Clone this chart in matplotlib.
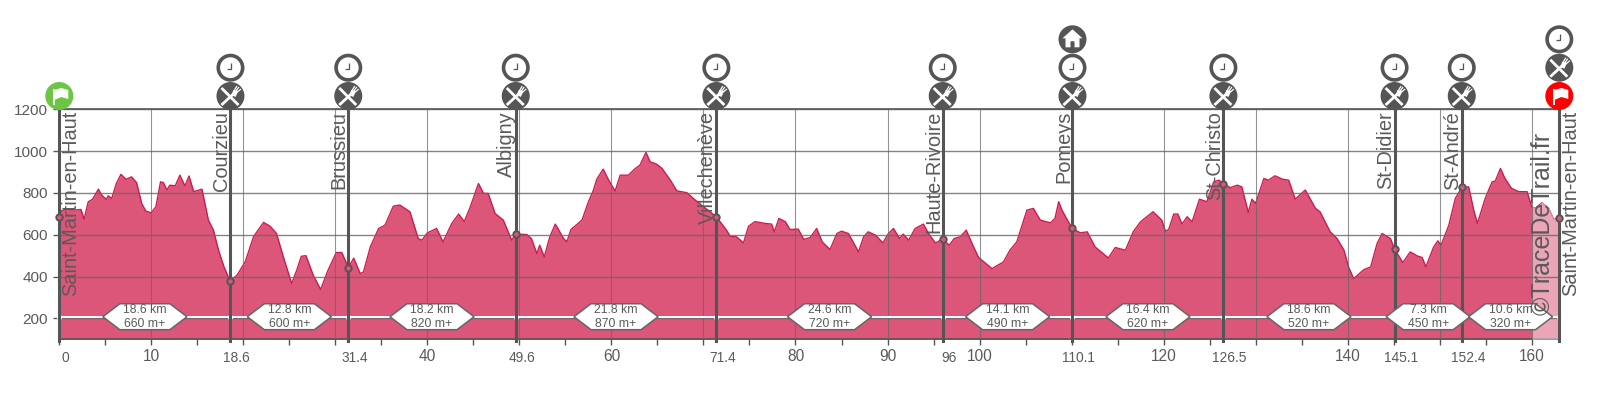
import matplotlib
matplotlib.use('Agg')
import matplotlib.pyplot as plt
from matplotlib.patches import Circle, Polygon

plt.rcParams['font.family'] = ['Liberation Sans', 'DejaVu Sans']

# Elevation profile
km = [0, .25, .8, 1.7, 2.35, 2.7, 3.15, 3.6, 4.25, 4.6, 5.1, 5.3, 5.7, 6.2, 6.7, 7.25, 7.85, 8.4, 8.95, 9.4,
      10, 10.5, 11, 11.3, 11.7, 12, 12.6, 13.1, 13.65, 14.1, 14.6, 15.5, 16.2, 16.75, 17.3, 17.9, 18.55, 19.3,
      20.2, 21.1, 21.6, 22.2, 22.9, 23.6, 24.35, 25.25, 25.8, 26.3, 26.8, 27.6, 28.4, 29.2, 30.1, 30.7, 31.4,
      32, 32.7, 33.05, 33.8, 34.7, 35.4, 36.3, 37, 38.1, 39, 39.4, 40, 41, 41.7, 42.65, 43.4, 44, 44.6, 45.55,
      46.1, 46.6, 47.35, 48.25, 49.15, 49.6, 50.8, 51.3, 51.9, 52.2, 52.7, 53.3, 53.9, 54.8, 55.15, 55.6, 56.8,
      57.5, 58.05, 58.4, 59.1, 59.7, 60.4, 60.95, 61.85, 62.6, 63.1, 63.75, 64.2, 64.9, 65.5, 66.4, 67.1, 68.2,
      69.1, 70, 71.4, 72.5, 72.9, 73.6, 74.35, 74.9, 75.6, 76.7, 77.4, 77.7, 78.2, 78.9, 79.4, 80.3, 80.9, 81.6,
      82.3, 82.9, 83.75, 84.5, 85, 85.75, 86.85, 87.4, 87.9, 88.7, 89.5, 90.1, 90.65, 91.3, 91.7, 92.3, 93, 93.9,
      94.45, 95.2, 96, 96.7, 97.25, 97.9, 98.55, 99.35, 99.9, 101.35, 102.6, 103.3, 104.05, 105.15, 105.85,
      106.6, 107.7, 108.2, 108.6, 108.95, 109.65, 110.1, 110.95, 111.7, 112.55, 114, 114.75, 115.85, 116.7,
      117.5, 118.85, 119.8, 120.2, 120.55, 121.1, 121.55, 122, 122.55, 123.1, 123.9, 124.7, 125.45, 126, 126.5,
      127.25, 128, 128.5, 129.2, 129.6, 130, 130.9, 131.4, 132.1, 132.9, 133.6, 134.3, 135.4, 136.5, 137, 138.1,
      138.85, 139.6, 140.1, 140.65, 141.75, 142.5, 143.2, 143.75, 144.65, 145.1, 146, 146.8, 147.55, 148.1,
      148.5, 149.35, 149.8, 150.15, 151, 151.7, 152.45, 153.15, 153.7, 154.1, 154.95, 155.7, 156.05, 156.6,
      157.1, 157.8, 158.6, 159.5, 160, 160.4, 161.1, 161.85, 162.4, 163]
elevation = [683, 715, 724, 718, 721, 675, 758, 769, 818, 790, 769, 786, 774, 845, 889, 865, 877, 849, 750, 713,
             705, 734, 853, 850, 814, 837, 834, 885, 834, 881, 806, 818, 670, 622, 526, 446, 379, 406,
             470, 590, 622, 659, 641, 606, 494, 366, 430, 497, 500, 406, 338, 430, 515, 515, 443,
             488, 414, 422, 542, 630, 646, 737, 742, 710, 582, 574, 609, 630, 566, 654, 699, 663, 726, 845,
             798, 798, 702, 670, 574, 603, 601, 582, 510, 550, 494, 590, 651, 582, 566, 625, 670,
             758, 814, 865, 914, 861, 809, 885, 885, 917, 933, 994, 949, 938, 917, 861, 810, 801,
             766, 734, 686, 622, 593, 590, 561, 641, 663, 654, 651, 614, 678, 662, 625, 627, 577, 587,
             630, 566, 529, 606, 617, 606, 518, 590, 614, 598, 561, 606, 630, 582, 603, 574, 630, 651,
             606, 561, 579, 550, 582, 590, 622, 542, 491, 438, 470, 526, 566, 718, 726,
             670, 657, 678, 758, 718, 662, 630, 609, 614, 542, 489, 539, 526, 614,
             662, 710, 670, 617, 625, 699, 699, 651, 686, 662, 770, 758, 853, 861, 845,
             825, 837, 829, 707, 770, 750, 869, 861, 882, 866, 861, 770, 814, 726, 710, 614,
             582, 526, 446, 390, 433, 446, 558, 606, 582, 531, 467, 518, 499, 491,
             446, 542, 571, 550, 646, 774, 829, 829, 718, 654, 774, 853, 857, 917,
             869, 822, 806, 806, 734, 726, 753, 726, 673, 680]

# Stations
station_km = [0, 18.6, 31.4, 49.6, 71.4, 96, 110.1, 126.5, 145.1, 152.4, 163]
station_elev = [683, 379, 443, 603, 686, 579, 630, 845, 531, 829, 680]
station_names = ['Saint-Martin-en-Haut', 'Courzieu', 'Brussieu', 'Albigny', 'Villechenève', 'Haute-Rivoire',
                 'Pomeys', 'St-Christo', 'St-Didier', 'St-André', 'Saint-Martin-en-Haut']
station_ticks = ['0', '18.6', '31.4', '49.6', '71.4', '96', '110.1', '126.5', '145.1', '152.4']
section_km = ['18.6 km', '12.8 km', '18.2 km', '21.8 km', '24.6 km', '14.1 km', '16.4 km', '18.6 km', '7.3 km', '10.6 km']
section_gain = ['660 m+', '600 m+', '820 m+', '870 m+', '720 m+', '490 m+', '620 m+', '520 m+', '450 m+', '320 m+']

y_ticks = [200, 400, 600, 800, 1000, 1200]
x_ticks = list(range(0, 165, 5))
x_grid = list(range(10, 170, 10))
x_labels = [10, 40, 60, 80, 90, 100, 120, 140, 160]

DARK = '#555555'
TEXT = '#5a5a5a'

fig = plt.figure(figsize=(16, 4), dpi=100)
ax = fig.add_axes([59.3 / 1600, (400 - 339.3) / 400, 1500 / 1600, 230 / 400])
ax.set_xlim(0, 163)
ax.set_ylim(100, 1200)

ax.fill_between(km, elevation, 100, color='#dc5679', lw=0, zorder=1)
ax.plot(km, elevation, color='#cf1a50', lw=1, zorder=2)

# pale end of the course
end_km = [k for k in km if k >= 160]
end_elev = [e for k, e in zip(km, elevation) if k >= 160]
ax.fill_between(end_km, [e + 4 for e in end_elev], 100, color='white', alpha=0.47, lw=0, zorder=3)

# grid
for y in y_ticks:
    ax.axhline(y, color='#666666', lw=1, alpha=0.8, zorder=4)
for x in x_grid:
    ax.axvline(x, color='#666666', lw=0.8, alpha=0.7, zorder=4)

for side in ['top', 'right']:
    ax.spines[side].set_visible(False)
for side in ['left', 'bottom']:
    ax.spines[side].set_color(DARK)
    ax.spines[side].set_linewidth(1.2)
ax.axhline(1200, color=DARK, lw=1.2, zorder=4, clip_on=False)

ax.set_yticks(y_ticks)
ax.set_xticks(x_ticks)
ax.set_xticklabels([])
ax.tick_params(axis='y', labelsize=11, colors=TEXT, length=4, width=1, pad=4)
ax.tick_params(axis='x', length=4.2, width=1, color=DARK)

xtr = ax.get_xaxis_transform()
for v in x_labels:
    ax.text(v + 0.02, -0.075, str(v), transform=xtr, ha='center', va='center', fontsize=11.2, color=TEXT)
for v, lab in zip(station_km, station_ticks):
    ax.text(v + 0.68, -0.081, lab, transform=xtr, ha='center', va='center', fontsize=9.9, color=TEXT)

# white line with a dot at every station
ax.axhline(208, color='white', lw=1.4, zorder=5)
ax.scatter(station_km, [208] * len(station_km), s=14, color='white', zorder=6, clip_on=False, lw=0)

# station lines and markers
for v in station_km:
    ax.plot([v, v], [-0.008, 1], transform=xtr, color=DARK, lw=2.2, zorder=7, clip_on=False)
ax.plot(station_km, station_elev, ls='none', marker='o', ms=4.6, mfc='#dc5679', mec=DARK, mew=1.4,
        zorder=8, clip_on=False)

# section hexagons
half_w, inset = 4.57, 1.85
half_h = 62
for i in range(len(section_km)):
    mid = (station_km[i] + station_km[i + 1]) / 2
    ax.add_patch(Polygon([(mid - half_w, 208), (mid - half_w + inset, 208 + half_h),
                          (mid + half_w - inset, 208 + half_h), (mid + half_w, 208),
                          (mid + half_w - inset, 208 - half_h), (mid - half_w + inset, 208 - half_h)],
                         closed=True, fc='white', ec='#666666', lw=1.1, zorder=9))
    ax.text(mid, 208 + 31, section_km[i], ha='center', va='center', fontsize=8.8, color=TEXT, zorder=10)
    ax.text(mid, 208 - 33, section_gain[i], ha='center', va='center', fontsize=8.8, color=TEXT, zorder=10)

ax.text(163 - 0.48, 218, '©TraceDeTrail.fr', rotation=90, ha='right', va='bottom', fontsize=18, color=TEXT, zorder=10)

# overlay in figure pixels for station names and round icons
ov = fig.add_axes([0, 0, 1, 1], facecolor='none')
ov.set_xlim(0, 1600)
ov.set_ylim(400, 0)
ov.axis('off')


def px(v):
    return ax.transData.transform((v, 0))[0]


def seg(x0, y0, pts, lw=1.8, c='white'):
    ov.plot([x0 + p[0] for p in pts], [y0 + p[1] for p in pts], color=c, lw=lw, solid_capstyle='butt', zorder=22)


def disc(x0, y0, color):
    ov.add_patch(Circle((x0, y0), 14, fc=color, ec='none', zorder=20, clip_on=False))


def clock(x0, y0):
    ov.add_patch(Circle((x0, y0), 12.2, fc='white', ec=DARK, lw=2.6, zorder=20))
    seg(x0, y0, [(1, -5), (1, 1), (-3, 1)], lw=0.9, c=DARK)


def cutlery(x0, y0):
    disc(x0, y0, DARK)
    seg(x0, y0, [(-9, -8), (8, 9)], lw=2.0)
    seg(x0, y0, [(-9, 9), (4, -3)], lw=2.0)
    ov.add_patch(Polygon([(x0 + 1, y0 - 1), (x0 + 3, y0 - 6), (x0 + 8, y0 - 5), (x0 + 5, y0 + 1)],
                         closed=True, fc='white', ec='none', zorder=22))
    seg(x0, y0, [(3.5, -5), (6.5, -10)], lw=0.9)
    seg(x0, y0, [(5.5, -5), (8.5, -9)], lw=0.9)
    seg(x0, y0, [(7, -4), (10.5, -7)], lw=0.9)


def flag(x0, y0, color):
    disc(x0, y0, color)
    seg(x0, y0, [(-5, -7), (-5, 9)], lw=1.4)
    ov.add_patch(Polygon([(x0 - 5, y0 - 6), (x0 + 2, y0 - 8), (x0 + 9, y0 - 6), (x0 + 9, y0 + 3),
                          (x0 + 2, y0 + 1), (x0 - 5, y0 + 4)], closed=True, fc='white', ec='none', zorder=22))


def home(x0, y0):
    disc(x0, y0, DARK)
    ov.add_patch(Polygon([(x0 - 10, y0 - 1), (x0, y0 - 10), (x0 + 10, y0 - 1), (x0 + 7, y0 - 1), (x0 + 7, y0 + 8),
                          (x0 + 2, y0 + 8), (x0 + 2, y0 + 2), (x0 - 2, y0 + 2), (x0 - 2, y0 + 8), (x0 - 7, y0 + 8),
                          (x0 - 7, y0 - 1)], closed=True, fc='white', ec='none', zorder=22))


ROW1, ROW2, ROW3 = 96, 67.7, 39.3
for i, v in enumerate(station_km):
    x0 = px(v)
    if i == 0:
        flag(x0, ROW1, '#6cc644')
        ov.text(x0 + 1.5, 111, station_names[i], rotation=90, ha='left', va='top', fontsize=14.4, color=TEXT)
    elif i == len(station_km) - 1:
        flag(x0, ROW1, '#ff0000')
        cutlery(x0, ROW2)
        clock(x0, ROW3)
        ov.text(x0 + 1.5, 111, station_names[i], rotation=90, ha='left', va='top', fontsize=14.4, color=TEXT)
    else:
        cutlery(x0, ROW1)
        clock(x0, ROW2)
        if station_names[i] == 'Pomeys':
            home(x0, ROW3)
        ov.text(x0 + 0.5, 111, station_names[i], rotation=90, ha='right', va='top', fontsize=14.4, color=TEXT)

fig.savefig('out.png', dpi=100)
